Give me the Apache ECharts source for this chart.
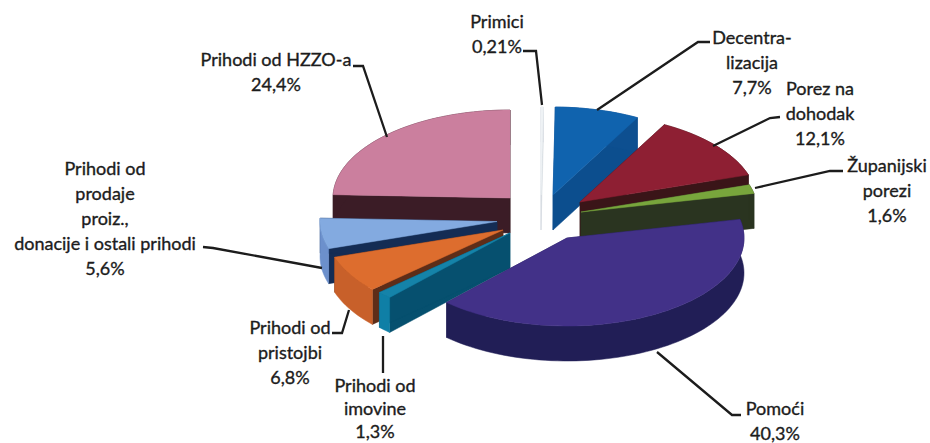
<!DOCTYPE html>
<html>
<head>
<meta charset="utf-8">
<style>
  html, body { margin: 0; padding: 0; background: #fff; }
  #chart { width: 930px; height: 443px; }
</style>
<script src="https://cdn.jsdelivr.net/npm/echarts@6/dist/echarts.min.js"></script>
</head>
<body>
<div id="chart"></div>
<script>
// clockwise from 12 o'clock, as in the source chart
const names = ['Primici', 'Decentra-\nlizacija', 'Porez na\ndohodak', 'Županijski\nporezi', 'Pomoći',
  'Prihodi od\nimovine', 'Prihodi od\npristojbi', 'Prihodi od\nprodaje\nproiz.,\ndonacije i ostali prihodi', 'Prihodi od HZZO-a'];
const values = [0.21, 7.7, 12.1, 1.6, 40.3, 1.3, 6.8, 5.6, 24.4];

const topColors = ['#eef2f5', '#1063ae', '#8e1f33', '#78a53c', '#423188', '#1583a9', '#dd6d2e', '#83aae0', '#cb7f9e'];
const outerColors = ['#d5dbe0', '#0d4f90', '#3a1518', '#2a3420', '#211e56', '#0f7fa6', '#c8602a', '#6c90cc', '#3b1c26'];
const cutColors = ['#d5dbe0', '#0c4e8e', '#3a1518', '#2a3420', '#211e56', '#06506f', '#5e2d18', '#142c54', '#3b1c26'];

// painter's order: back slices first
const drawOrder = [8, 0, 7, 6, 5, 1, 2, 3, 4];

// pie shape in pixels
const center = [530, 215];
const rx = 177;
const ry = 88;
const depth = 35;
// each slice is pulled out by its own offset from the centre
const explode = [[11, -20], [23, -20], [50, -13], [51, -3], [37, 23], [-20, 18], [-27, 15], [-33, 6.5], [-20, -17]];

// label block centres, line spacing and leader lines
const labelPos = [[497, 33], [752, 62], [820, 113], [887, 190], [775, 420], [375, 408], [290, 352], [105, 218], [276, 71]];
const labelSpacing = [25, 25, 25, 25, 25, 23, 25, 25, 25];
const leaders = [
  [[523, 51], [536, 51], [542, 105]],
  [[710, 42], [698, 42], [597, 110]],
  [[780, 117], [770, 118], [713, 146]],
  [[843, 171], [830, 171], [755, 188]],
  [[741, 415], [732, 415], [657, 352]],
  [[383, 373], [383, 336]],
  [[332, 333], [342, 333], [349, 310]],
  [[203, 247], [213, 248], [322, 268]],
  [[353, 66], [363, 66], [387, 137]]
];

const total = values.reduce((a, b) => a + b, 0);
const starts = [];
values.reduce((acc, v, i) => { starts[i] = acc; return acc + v; }, 0);

function arcPoints(cx, cy, a0, a1) {
  const pts = [];
  const n = Math.max(2, Math.ceil((a1 - a0) / (Math.PI / 90)));
  for (let i = 0; i <= n; i++) {
    const a = a0 + (a1 - a0) * i / n;
    pts.push([cx + rx * Math.sin(a), cy - ry * Math.cos(a)]);
  }
  return pts;
}

function poly(points, color, z2) {
  return {
    type: 'polygon',
    z2: z2,
    shape: { points: points },
    style: { fill: color, stroke: color, lineWidth: 0.5 }
  };
}

function renderSlice(params, api) {
  const i = params.dataIndex;
  const value = api.value(0);
  const a0 = starts[i] / total * Math.PI * 2;
  const a1 = a0 + value / total * Math.PI * 2;
  const cx = center[0] + explode[i][0];
  const cy = center[1] + explode[i][1];
  const arc = arcPoints(cx, cy, a0, a1);
  const down = p => [p[0], p[1] + depth];
  const z = drawOrder.indexOf(i) * 10 + 1;
  const apex = [cx, cy];
  const first = arc[0];
  const last = arc[arc.length - 1];

  const children = [
    poly([apex, first, down(first), down(apex)], cutColors[i], z),
    poly([apex, last, down(last), down(apex)], cutColors[i], z + 1),
    poly(arc.concat(arc.map(down).reverse()), outerColors[i], z + 2),
    poly([apex].concat(arc), topColors[i], z + 3),
    {
      type: 'polyline',
      z2: 200,
      shape: { points: leaders[i] },
      style: { fill: 'none', stroke: '#1c1c1c', lineWidth: 2.3 }
    },
    {
      type: 'text',
      z2: 201,
      x: labelPos[i][0],
      y: labelPos[i][1],
      style: {
        text: names[i] + '\n' + String(value).replace('.', ',') + '%',
        fill: '#1c1c1c',
        stroke: '#1c1c1c',
        lineWidth: 0.35,
        font: '18px Lato',
        lineHeight: labelSpacing[i],
        align: 'center',
        verticalAlign: 'middle'
      }
    }
  ];
  return { type: 'group', children: children };
}

const chart = echarts.init(document.getElementById('chart'), null, { renderer: 'svg', width: 930, height: 443 });
chart.setOption({
  animation: false,
  backgroundColor: '#fff',
  series: [{
    type: 'custom',
    coordinateSystem: 'none',
    silent: true,
    renderItem: renderSlice,
    data: values.map((v, i) => ({ name: names[i], value: [v] }))
  }]
});
</script>
</body>
</html>
